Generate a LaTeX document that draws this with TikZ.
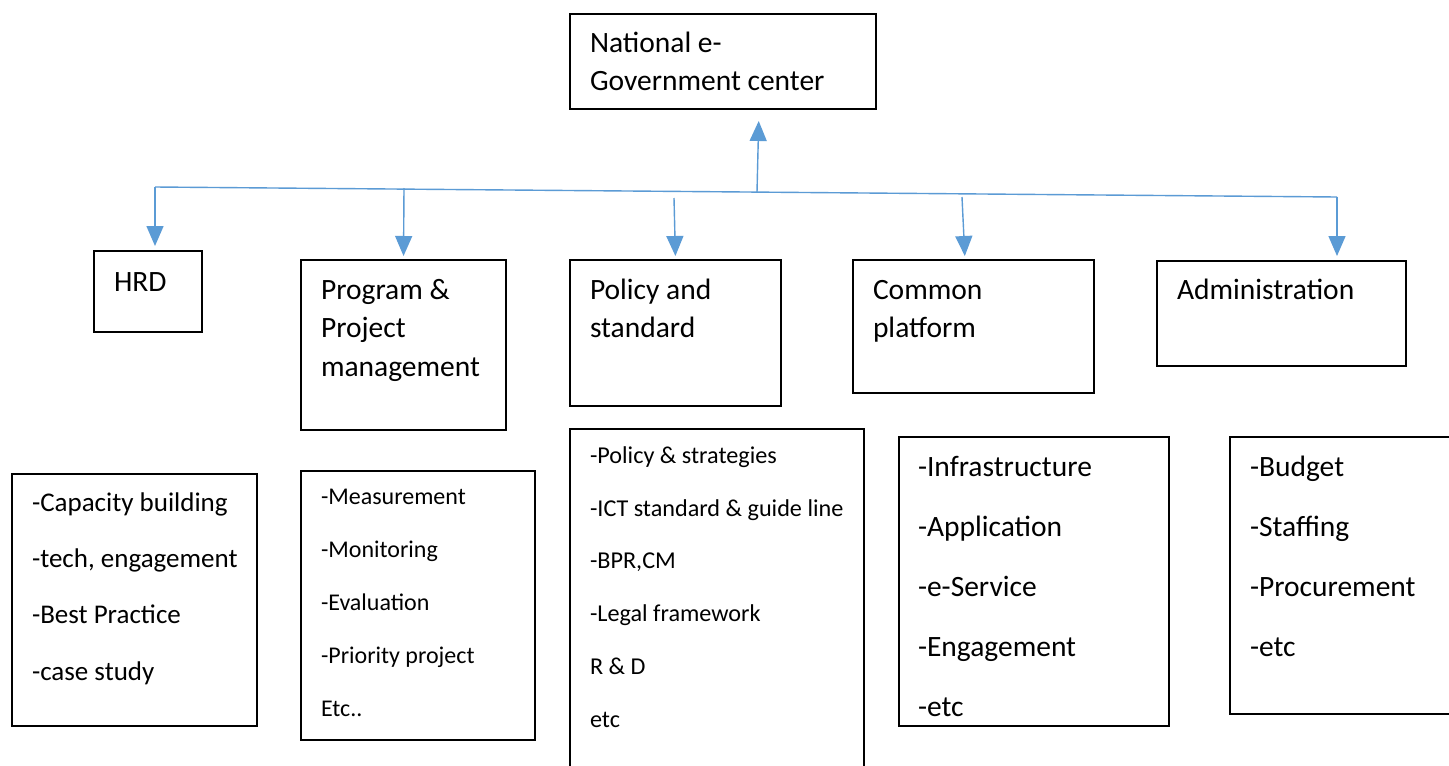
\documentclass[tikz,border=0pt]{standalone}
\usepackage{fontspec}
\setmainfont{Carlito}
\usetikzlibrary{arrows.meta}
\definecolor{lnblue}{HTML}{5B9BD5}
\begin{document}
\begin{tikzpicture}[x=1pt,y=-1pt,
  box/.style={draw=black,line width=1.3pt,inner sep=0pt,outer sep=0pt,anchor=north west},
  txt/.style={inner sep=0pt,outer sep=0pt,anchor=base west,text=black},
  bigtxt/.style={txt,font=\fontsize{29.5}{38.5}\selectfont},
  conn/.style={draw=lnblue,line width=1.4pt},
  arr/.style={conn,-{Triangle[width=17pt,length=20pt]},fill=lnblue}]
\useasboundingbox[fill=white] (0,0) rectangle (1449,766);

% top box
\node[box,minimum width=306pt,minimum height=95pt] (nat) at (570,14) {};
\node[bigtxt] (natT) at (590,52) {\vtop{\hbox{National e-}\hbox{Government center}}};

% second row
\node[box,minimum width=108pt,minimum height=81pt] (hrd) at (94,251) {};
\node[bigtxt] (hrdT) at (114,291) {HRD};

\node[box,minimum width=205pt,minimum height=170pt] (prog) at (301,260) {};
\node[bigtxt] (progT) at (321,299) {\vtop{\hbox{Program \&}\hbox{Project}\hbox{management}}};

\node[box,minimum width=211pt,minimum height=146pt] (pol) at (570,260) {};
\node[bigtxt] (polT) at (590,299) {\vtop{\hbox{Policy and}\hbox{standard}}};

\node[box,minimum width=241pt,minimum height=133pt] (com) at (853,260) {};
\node[bigtxt] (comT) at (873,299) {\vtop{\hbox{Common}\hbox{platform}}};

\node[box,minimum width=249pt,minimum height=105pt] (adm) at (1157,261) {};
\node[bigtxt] (admT) at (1177,299) {Administration};

% third row
\node[box,minimum width=245pt,minimum height=252pt] (hrdL) at (12,474) {};
\node[txt,font=\fontsize{27}{56.2}\selectfont] (hrdLT) at (32,511.5)
  {\vtop{\hbox{-Capacity building}\hbox{-tech, engagement}\hbox{-Best Practice}\hbox{-case study}}};

\node[box,minimum width=234pt,minimum height=269pt] (progL) at (301,471) {};
\node[txt,font=\fontsize{24}{53}\selectfont] (progLT) at (321,504)
  {\vtop{\hbox{-Measurement}\hbox{-Monitoring}\hbox{-Evaluation}\hbox{-Priority project}\hbox{Etc..}}};

\node[box,minimum width=294pt,minimum height=360pt] (polL) at (570,429) {};
\node[txt,font=\fontsize{24.2}{52.7}\selectfont] (polLT) at (590,463.5)
  {\vtop{\hbox{-Policy \& strategies}\hbox{-ICT standard \& guide line}\hbox{-BPR,CM}\hbox{-Legal framework}\hbox{R \& D}\hbox{etc}}};

\node[box,minimum width=270pt,minimum height=289pt] (comL) at (899,437) {};
\node[txt,font=\fontsize{29.5}{60}\selectfont] (comLT) at (918,476)
  {\vtop{\hbox{-Infrastructure}\hbox{-Application}\hbox{-e-Service}\hbox{-Engagement}\hbox{-etc}}};

\node[box,minimum width=240pt,minimum height=277pt] (admL) at (1230,437) {};
\node[txt,font=\fontsize{29.5}{60.3}\selectfont] (admLT) at (1250,476)
  {\vtop{\hbox{-Budget}\hbox{-Staffing}\hbox{-Procurement}\hbox{-etc}}};

% connectors
\coordinate (L) at (155,187);
\coordinate (R) at (1337,197);
\coordinate (jup) at (757,192);
\coordinate (jprog) at (404,188);
\coordinate (spol) at (674,198);
\coordinate (scom) at (962,197);

\draw[conn] (L) -- (R);
\draw[arr,shorten >=12pt] (jup) -- ([xshift=36pt]nat.south);
\draw[arr,shorten >=5pt] (L) -- (L |- hrd.north);
\draw[arr,shorten >=4pt] (jprog) -- (prog.north);
\draw[arr,shorten >=4pt] (spol) -- (pol.north);
\draw[arr,shorten >=4pt] (scom) -- ([xshift=-8.5pt]com.north);
\draw[arr,shorten >=5pt] (R) -- (R |- adm.north);
\end{tikzpicture}
\end{document}
